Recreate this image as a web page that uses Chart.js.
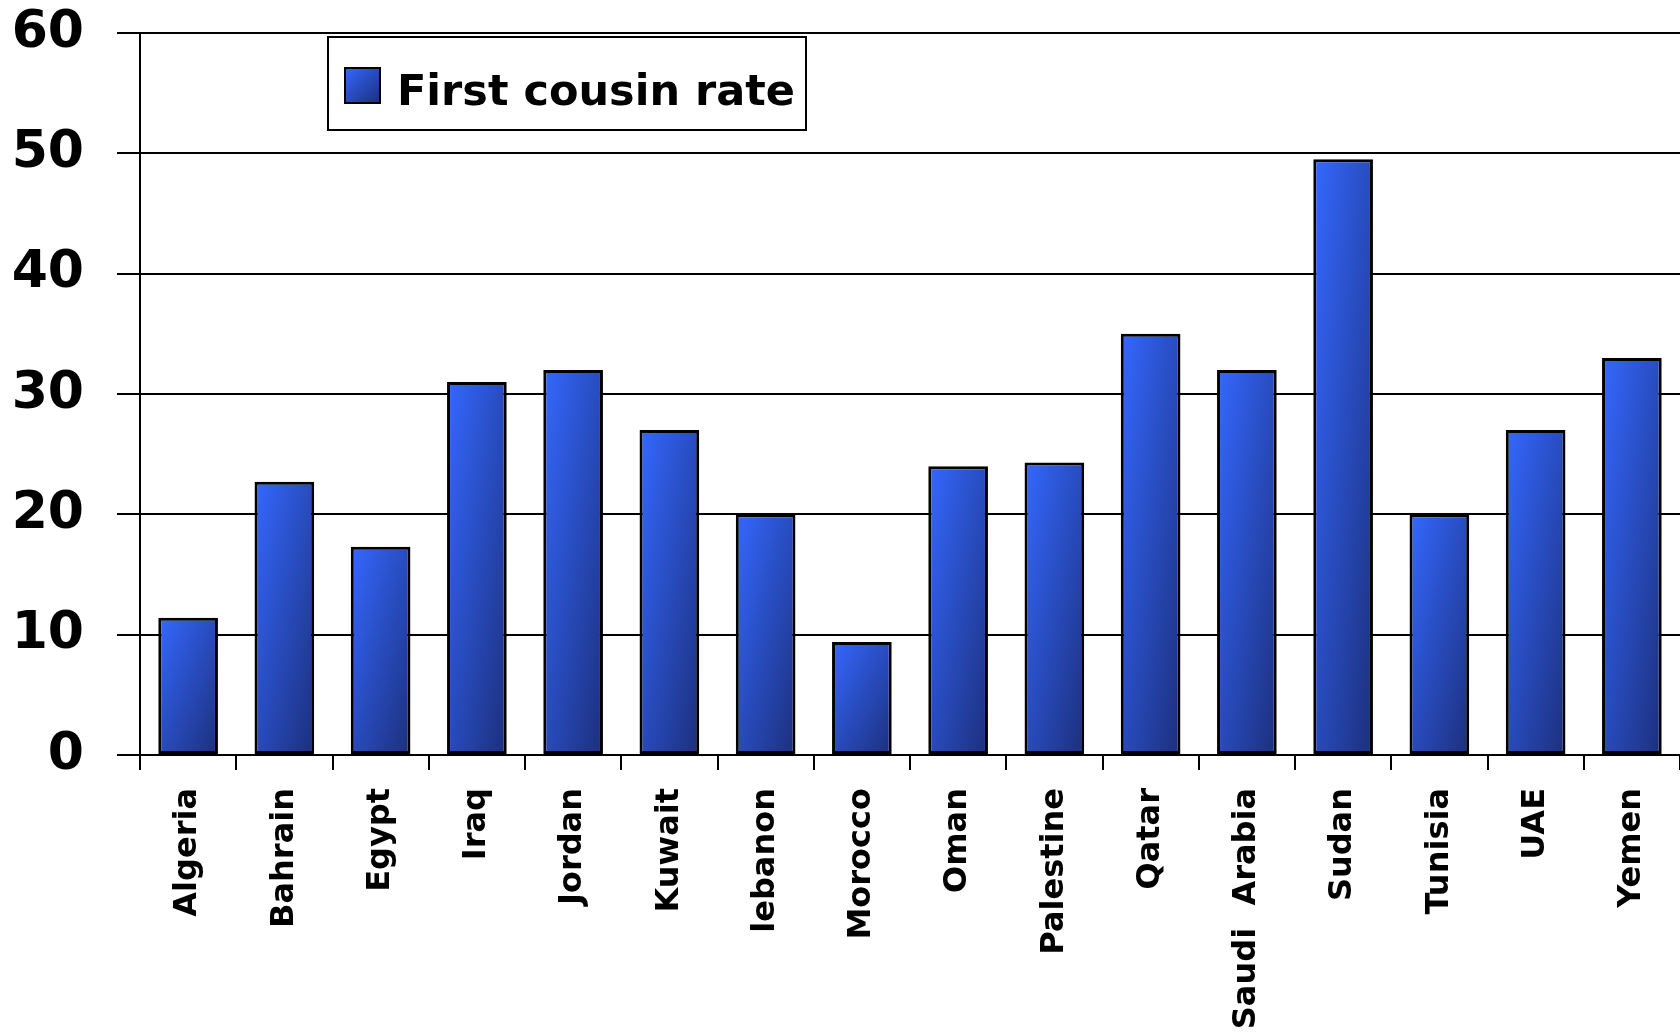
<!DOCTYPE html>
<html>
<head>
<meta charset="utf-8">
<title>First cousin rate</title>
<script src="https://cdn.jsdelivr.net/npm/chart.js@4.4.1/dist/chart.umd.min.js"></script>
<style>
  html, body { margin: 0; padding: 0; background: #ffffff; overflow: hidden; }
  #wrap { width: 1680px; height: 1034px; }
</style>
</head>
<body>
<div id="wrap"><canvas id="chart" width="1680" height="1034"></canvas></div>
<script>
// Countries along the category axis
const countries = ['Algeria', 'Bahrain', 'Egypt', 'Iraq', 'Jordan', 'Kuwait', 'lebanon', 'Morocco',
  'Oman', 'Palestine', 'Qatar', 'Saudi  Arabia', 'Sudan', 'Tunisia', 'UAE', 'Yemen'];

// First cousin marriage rate (%) per country
const firstCousinRate = [11.4, 22.7, 17.3, 31, 32, 27, 20, 9.4, 24, 24.3, 35, 32, 49.5, 20, 27, 33];

// Value axis ticks
const yTicks = [0, 10, 20, 30, 40, 50, 60];

const seriesLabel = 'First cousin rate';

const FONT = '"DejaVu Sans", "Liberation Sans", sans-serif';
const BAR_FRACTION = 0.62;
const LIGHT = '#3468ff';
const DARK = '#1c2f7c';

// Corner-to-corner gradient in the bar's own box (top-left light, bottom-right dark)
function boxGradient(ctx, left, top, right, bottom) {
  const w = Math.max(right - left, 1);
  const h = Math.max(bottom - top, 1);
  const k = 2 * w * h / (w * w + h * h);
  const g = ctx.createLinearGradient(left, top, left + h * k, top + w * k);
  g.addColorStop(0, LIGHT);
  g.addColorStop(1, DARK);
  return g;
}

function barFill(c) {
  const chart = c.chart;
  const xs = chart.scales.x, ys = chart.scales.y;
  if (!chart.chartArea || !xs || !ys || c.type !== 'data') return LIGHT;
  const center = xs.getPixelForValue(c.dataIndex);
  const half = (xs.width / countries.length) * BAR_FRACTION / 2;
  const top = ys.getPixelForValue(c.raw);
  const base = ys.getPixelForValue(0);
  return boxGradient(chart.ctx, center - half, top, center + half, base);
}

// Framed legend drawn inside the plot area
const framedLegend = {
  id: 'framedLegend',
  afterDraw(chart) {
    const ctx = chart.ctx;
    const a = chart.chartArea;
    const bx = a.left + 188, by = a.top + 4, bw = 478, bh = 93;
    ctx.save();
    ctx.fillStyle = '#ffffff';
    ctx.fillRect(bx, by, bw, bh);
    ctx.lineWidth = 2;
    ctx.strokeStyle = '#000000';
    ctx.strokeRect(bx, by, bw, bh);
    const sx = bx + 17, sy = by + 31, ss = 35;
    ctx.fillStyle = boxGradient(ctx, sx, sy, sx + ss, sy + ss);
    ctx.fillRect(sx, sy, ss, ss);
    ctx.lineWidth = 2;
    ctx.strokeRect(sx, sy, ss, ss);
    ctx.fillStyle = '#000000';
    ctx.font = 'bold 43px ' + FONT;
    ctx.textBaseline = 'alphabetic';
    ctx.textAlign = 'left';
    ctx.fillText(chart.data.datasets[0].label, bx + 69, by + 68);
    ctx.restore();
  }
};

new Chart(document.getElementById('chart'), {
  type: 'bar',
  data: {
    labels: countries,
    datasets: [{
      label: seriesLabel,
      data: firstCousinRate,
      backgroundColor: barFill,
      borderColor: '#000000',
      borderWidth: 3,
      borderSkipped: false,
      barPercentage: BAR_FRACTION,
      categoryPercentage: 1.0
    }]
  },
  options: {
    responsive: false,
    animation: false,
    layout: { padding: { top: 33, left: 0, right: 0, bottom: 0 } },
    plugins: {
      legend: { display: false },
      tooltip: { enabled: false }
    },
    scales: {
      x: {
        offset: true,
        grid: {
          display: true,
          drawOnChartArea: false,
          drawTicks: true,
          tickLength: 15,
          color: '#000000',
          lineWidth: 2,
          offset: true
        },
        border: { display: true, color: '#000000', width: 2 },
        ticks: {
          autoSkip: false,
          maxRotation: 90,
          minRotation: 90,
          padding: 18,
          color: '#000000',
          font: { family: FONT, size: 32, weight: 'bold' }
        },
        afterFit(scale) {
          scale.height = 279;
          scale.paddingLeft = 0;
          scale.paddingRight = 0;
        }
      },
      y: {
        min: yTicks[0],
        max: yTicks[yTicks.length - 1],
        afterBuildTicks(scale) {
          scale.ticks = yTicks.map(v => ({ value: v }));
        },
        grid: {
          color: '#000000',
          lineWidth: 2,
          drawTicks: true,
          tickLength: 23
        },
        border: { display: true, color: '#000000', width: 2 },
        ticks: {
          padding: 33,
          color: '#000000',
          font: { family: FONT, size: 52, weight: 'bold' }
        },
        afterFit(scale) {
          scale.width = 140;
          scale.paddingTop = 0;
          scale.paddingBottom = 0;
        }
      }
    }
  },
  plugins: [framedLegend]
});
</script>
</body>
</html>
